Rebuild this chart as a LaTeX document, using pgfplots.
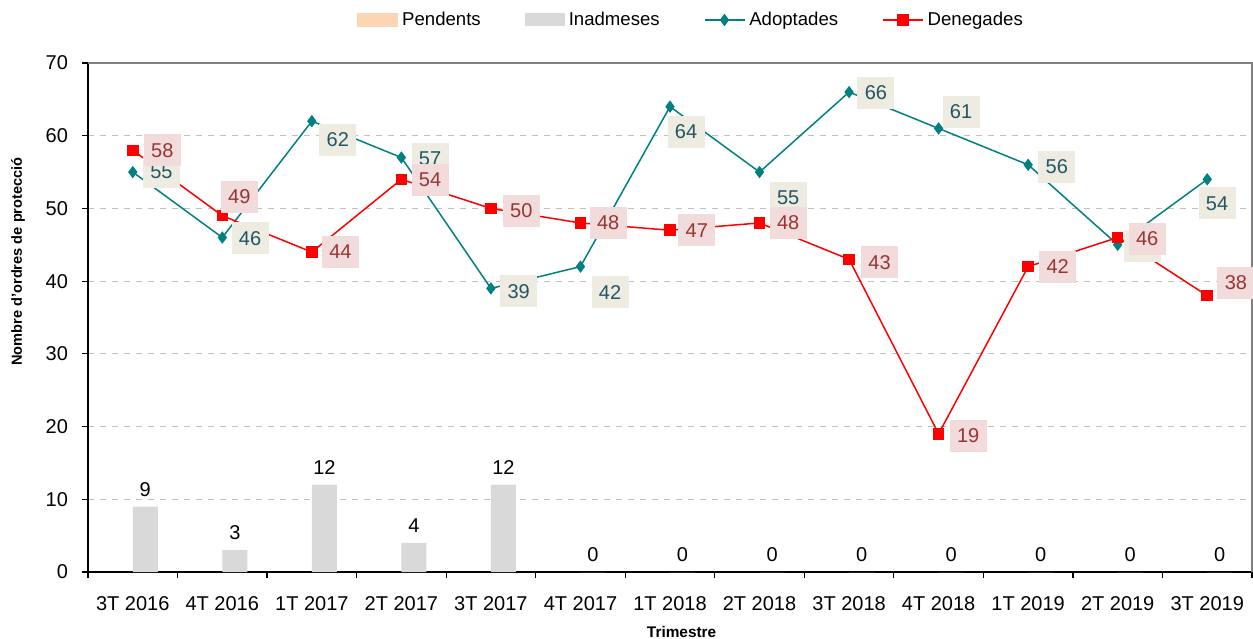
\documentclass[border=0pt]{standalone}
\usepackage{pgfplots}
\pgfplotsset{compat=1.18}
\usepackage{fontspec}
\setmainfont{Liberation Sans}
\definecolor{tealline}{RGB}{0,128,128}
\definecolor{redline}{RGB}{255,0,0}
\definecolor{bargray}{RGB}{217,217,217}
\definecolor{peach}{RGB}{252,213,180}
\definecolor{adobg}{RGB}{238,236,225}
\definecolor{adotext}{RGB}{35,85,100}
\definecolor{denbg}{RGB}{242,220,219}
\definecolor{dentext}{RGB}{150,54,52}
\definecolor{gridgray}{RGB}{192,192,192}
\definecolor{framegray}{RGB}{128,128,128}
\pgfplotsset{
  linelegend/.style={legend image code/.code={\draw[mark repeat=2,mark phase=2,##1] plot coordinates {(0pt,0pt) (10pt,0pt) (20pt,0pt)};}},
}
\begin{document}
\begin{tikzpicture}
\begin{axis}[
  name=main,
  width=582pt, height=254.5pt, scale only axis,
  xmin=-0.5, xmax=12.5, ymin=0, ymax=70,
  clip=false,
  axis x line*=bottom, axis y line*=left,
  axis line style={-, black, line width=0.8pt},
  tick align=outside,
  major tick length=3pt,
  tick style={black, line width=0.6pt},
  xtick={-0.5,0.5,...,12.5},
  xticklabels={},
  extra x ticks={0,1,...,12},
  extra x tick labels={3T 2016,4T 2016,1T 2017,2T 2017,3T 2017,4T 2017,1T 2018,2T 2018,3T 2018,4T 2018,1T 2019,2T 2019,3T 2019},
  extra x tick style={major tick length=0pt, grid=none},
  xticklabel style={font=\fontsize{10}{12}\selectfont, yshift=-8.5pt},
  ytick={0,10,...,70},
  yticklabel style={font=\fontsize{10}{12}\selectfont, xshift=-3.5pt},
  /pgf/number format/assume math mode=true,
  ymajorgrids,
  major grid style={dashed, gridgray, line width=0.6pt},
  xlabel={Trimestre},
  ylabel={Nombre d'ordres de protecció},
  every axis x label/.style={at={(axis description cs:0.51,-0.117)}, anchor=center, font=\fontsize{7.7}{9}\selectfont\bfseries},
  every axis y label/.style={at={(axis description cs:-0.0601,0.61)}, anchor=center, rotate=90, font=\fontsize{7.3}{9}\selectfont\bfseries},
  legend columns=4,
  legend style={at={(axis description cs:0.519,1.0845)}, anchor=center, draw=none, fill=none,
    font=\fontsize{9.3}{11}\selectfont,
    /tikz/every even column/.append style={column sep=20pt},
    nodes={inner sep=2pt}},
  legend cell align=left,
]
\addlegendimage{legend image code/.code={\fill[peach] (0pt,-3.25pt) rectangle (20pt,3.25pt);}}
\addlegendentry{Pendents}

\addplot[ybar, bar width=0.28, bar shift=0.14, fill=bargray, draw=none,
  nodes near coords,
  nodes near coords style={font=\fontsize{10}{12}\selectfont, text=black, xshift=6.27pt, yshift=1.5pt},
  legend image code/.code={\fill[bargray] (0pt,-3.25pt) rectangle (20pt,3.25pt);}]
  coordinates {(0,9) (1,3) (2,12) (3,4) (4,12) (5,0) (6,0) (7,0) (8,0) (9,0) (10,0) (11,0) (12,0)};
\addlegendentry{Inadmeses}

\addplot[tealline, line width=0.75pt, mark=diamond*, mark size=2.5pt, mark options={solid, fill=tealline}, linelegend]
  coordinates {(0,55) (1,46) (2,62) (3,57) (4,39) (5,42) (6,64) (7,55) (8,66) (9,61) (10,56) (11,45) (12,54)};
\addlegendentry{Adoptades}

\addplot[redline, line width=0.75pt, mark=square*, mark size=2.5pt, mark options={solid, fill=redline}, linelegend]
  coordinates {(0,58) (1,49) (2,44) (3,54) (4,50) (5,48) (6,47) (7,48) (8,43) (9,19) (10,42) (11,46) (12,38)};
\addlegendentry{Denegades}

% Adoptades data labels
\addplot[draw=none, mark=none, forget plot, nodes near coords, point meta=explicit symbolic,
  nodes near coords style={anchor=center, fill=adobg, text=adotext, minimum width=18.5pt, minimum height=16pt, inner sep=0pt, font=\fontsize{10}{12}\selectfont}]
  table[meta=v] {
x y v
0.32 55.0 55
1.31 45.9 46
2.29 59.4 62
3.32 56.8 57
4.31 38.6 39
5.33 38.5 42
6.18 60.5 64
7.32 51.5 55
8.30 65.9 66
9.25 63.3 61
10.32 55.7 56
11.28 44.8 45
12.11 50.7 54
};

% Denegades data labels
\addplot[draw=none, mark=none, forget plot, nodes near coords, point meta=explicit symbolic,
  nodes near coords style={anchor=center, fill=denbg, text=dentext, minimum width=18.5pt, minimum height=16pt, inner sep=0pt, font=\fontsize{10}{12}\selectfont}]
  table[meta=v] {
x y v
0.33 58.0 58
1.19 51.6 49
2.32 44.0 44
3.32 53.9 54
4.34 49.7 50
5.31 48.0 48
6.30 47.0 47
7.32 48.0 48
8.34 42.6 43
9.33 18.7 19
10.33 42.0 42
11.33 45.8 46
12.32 39.8 38
};

\draw[framegray, line width=0.8pt] (rel axis cs:0,1) -- (rel axis cs:1,1) -- (rel axis cs:1,0);
\end{axis}
\pgfresetboundingbox
\path ([shift={(-44pt,-33pt)}]main.south west) rectangle ([shift={(0.5pt,31.5pt)}]main.north east);
\end{tikzpicture}
\end{document}
